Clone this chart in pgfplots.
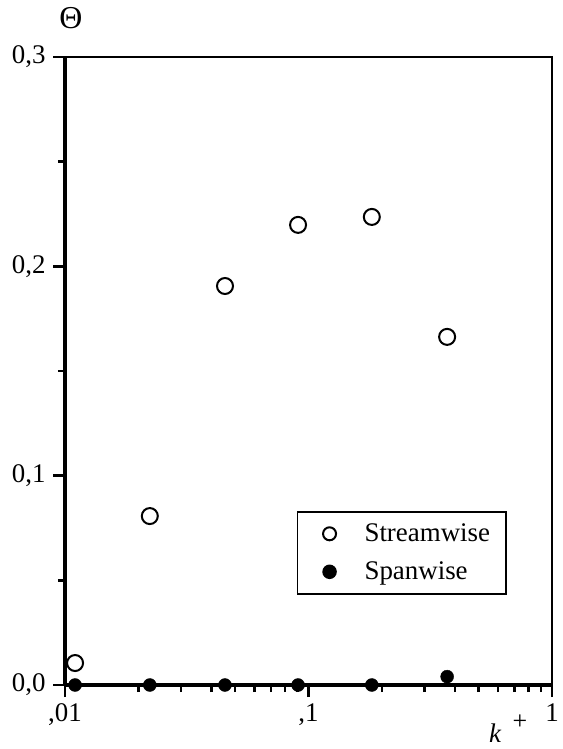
\documentclass[border=0pt]{standalone}
\usepackage{fontspec}
\setmainfont{Liberation Serif}
\usepackage{pgfplots}
\pgfplotsset{compat=1.18}
\begin{document}
\begin{tikzpicture}
\begin{axis}[
  scale only axis, width=487bp, height=628bp,
  xmode=log, xmin=0.01, xmax=1, ymin=0, ymax=0.3,
  clip=false,
  xtick={0.01,0.1,1}, xticklabels={\mbox{,01},\mbox{,1},\mbox{1}},
  minor xtick={0.02,0.03,0.04,0.05,0.06,0.07,0.08,0.09,0.2,0.3,0.4,0.5,0.6,0.7,0.8,0.9},
  ytick={0,0.1,0.2,0.3}, yticklabels={\mbox{0,0},\mbox{0,1},\mbox{0,2},\mbox{0,3}},
  minor ytick={0.05,0.15,0.25},
  tick align=outside, xtick pos=left, ytick pos=left,
  major tick length=12bp, minor tick length=7bp,
  major tick style={black, line width=2.5bp},
  minor tick style={black, line width=2.5bp},
  axis line style={line width=2bp},
  tick label style={font=\fontsize{27}{27}\selectfont},
  xticklabel style={yshift=-3bp},
  yticklabel style={xshift=-4bp},
  legend style={at={(0.476,0.277)}, anchor=north west, draw=black, line width=1.5bp,
    font=\fontsize{27}{27}\selectfont, inner xsep=0pt, inner ysep=3bp, row sep=0pt,
    nodes={inner sep=0pt, minimum height=38bp}},
  legend cell align=left,
  legend image code/.code={%
    \path[draw=none,fill=none] (-32bp,-6bp) rectangle (35bp,6bp);
    \draw[#1,mark size=6.5bp] plot coordinates {(0bp,0bp)};},
]
\draw[line width=3.5bp] (rel axis cs:0,0) -- (rel axis cs:0,1);
\draw[line width=3.5bp] (rel axis cs:0,0) -- (rel axis cs:1,0);
\addplot[only marks, mark=o, mark size=8bp, line width=2bp, mark options={fill=white}]
  coordinates {(0.011,0.0105) (0.0223,0.0807) (0.0454,0.1906) (0.0906,0.2198) (0.182,0.2236) (0.371,0.1663)};
\addlegendentry{Streamwise\hspace*{16bp}}
\addplot[only marks, mark=*, mark size=6.5bp, black]
  coordinates {(0.011,0) (0.0223,0) (0.0454,0) (0.0906,0) (0.182,0) (0.371,0.004)};
\addlegendentry{Spanwise}
\node[font=\fontsize{32}{32}\selectfont] at (rel axis cs:0,1) [xshift=6bp, yshift=39bp] {Θ};
\node[font=\fontsize{27}{27}\selectfont\itshape] at (rel axis cs:1,0) [xshift=-57bp, yshift=-48bp] {k};
\node[font=\fontsize{26}{26}\selectfont] at (rel axis cs:1,0) [xshift=-32bp, yshift=-37bp] {+};
\end{axis}
\pgfresetboundingbox
\path ([shift={(-65bp,-64bp)}]current axis.south west) rectangle ++(563bp,749bp);
\end{tikzpicture}
\end{document}
